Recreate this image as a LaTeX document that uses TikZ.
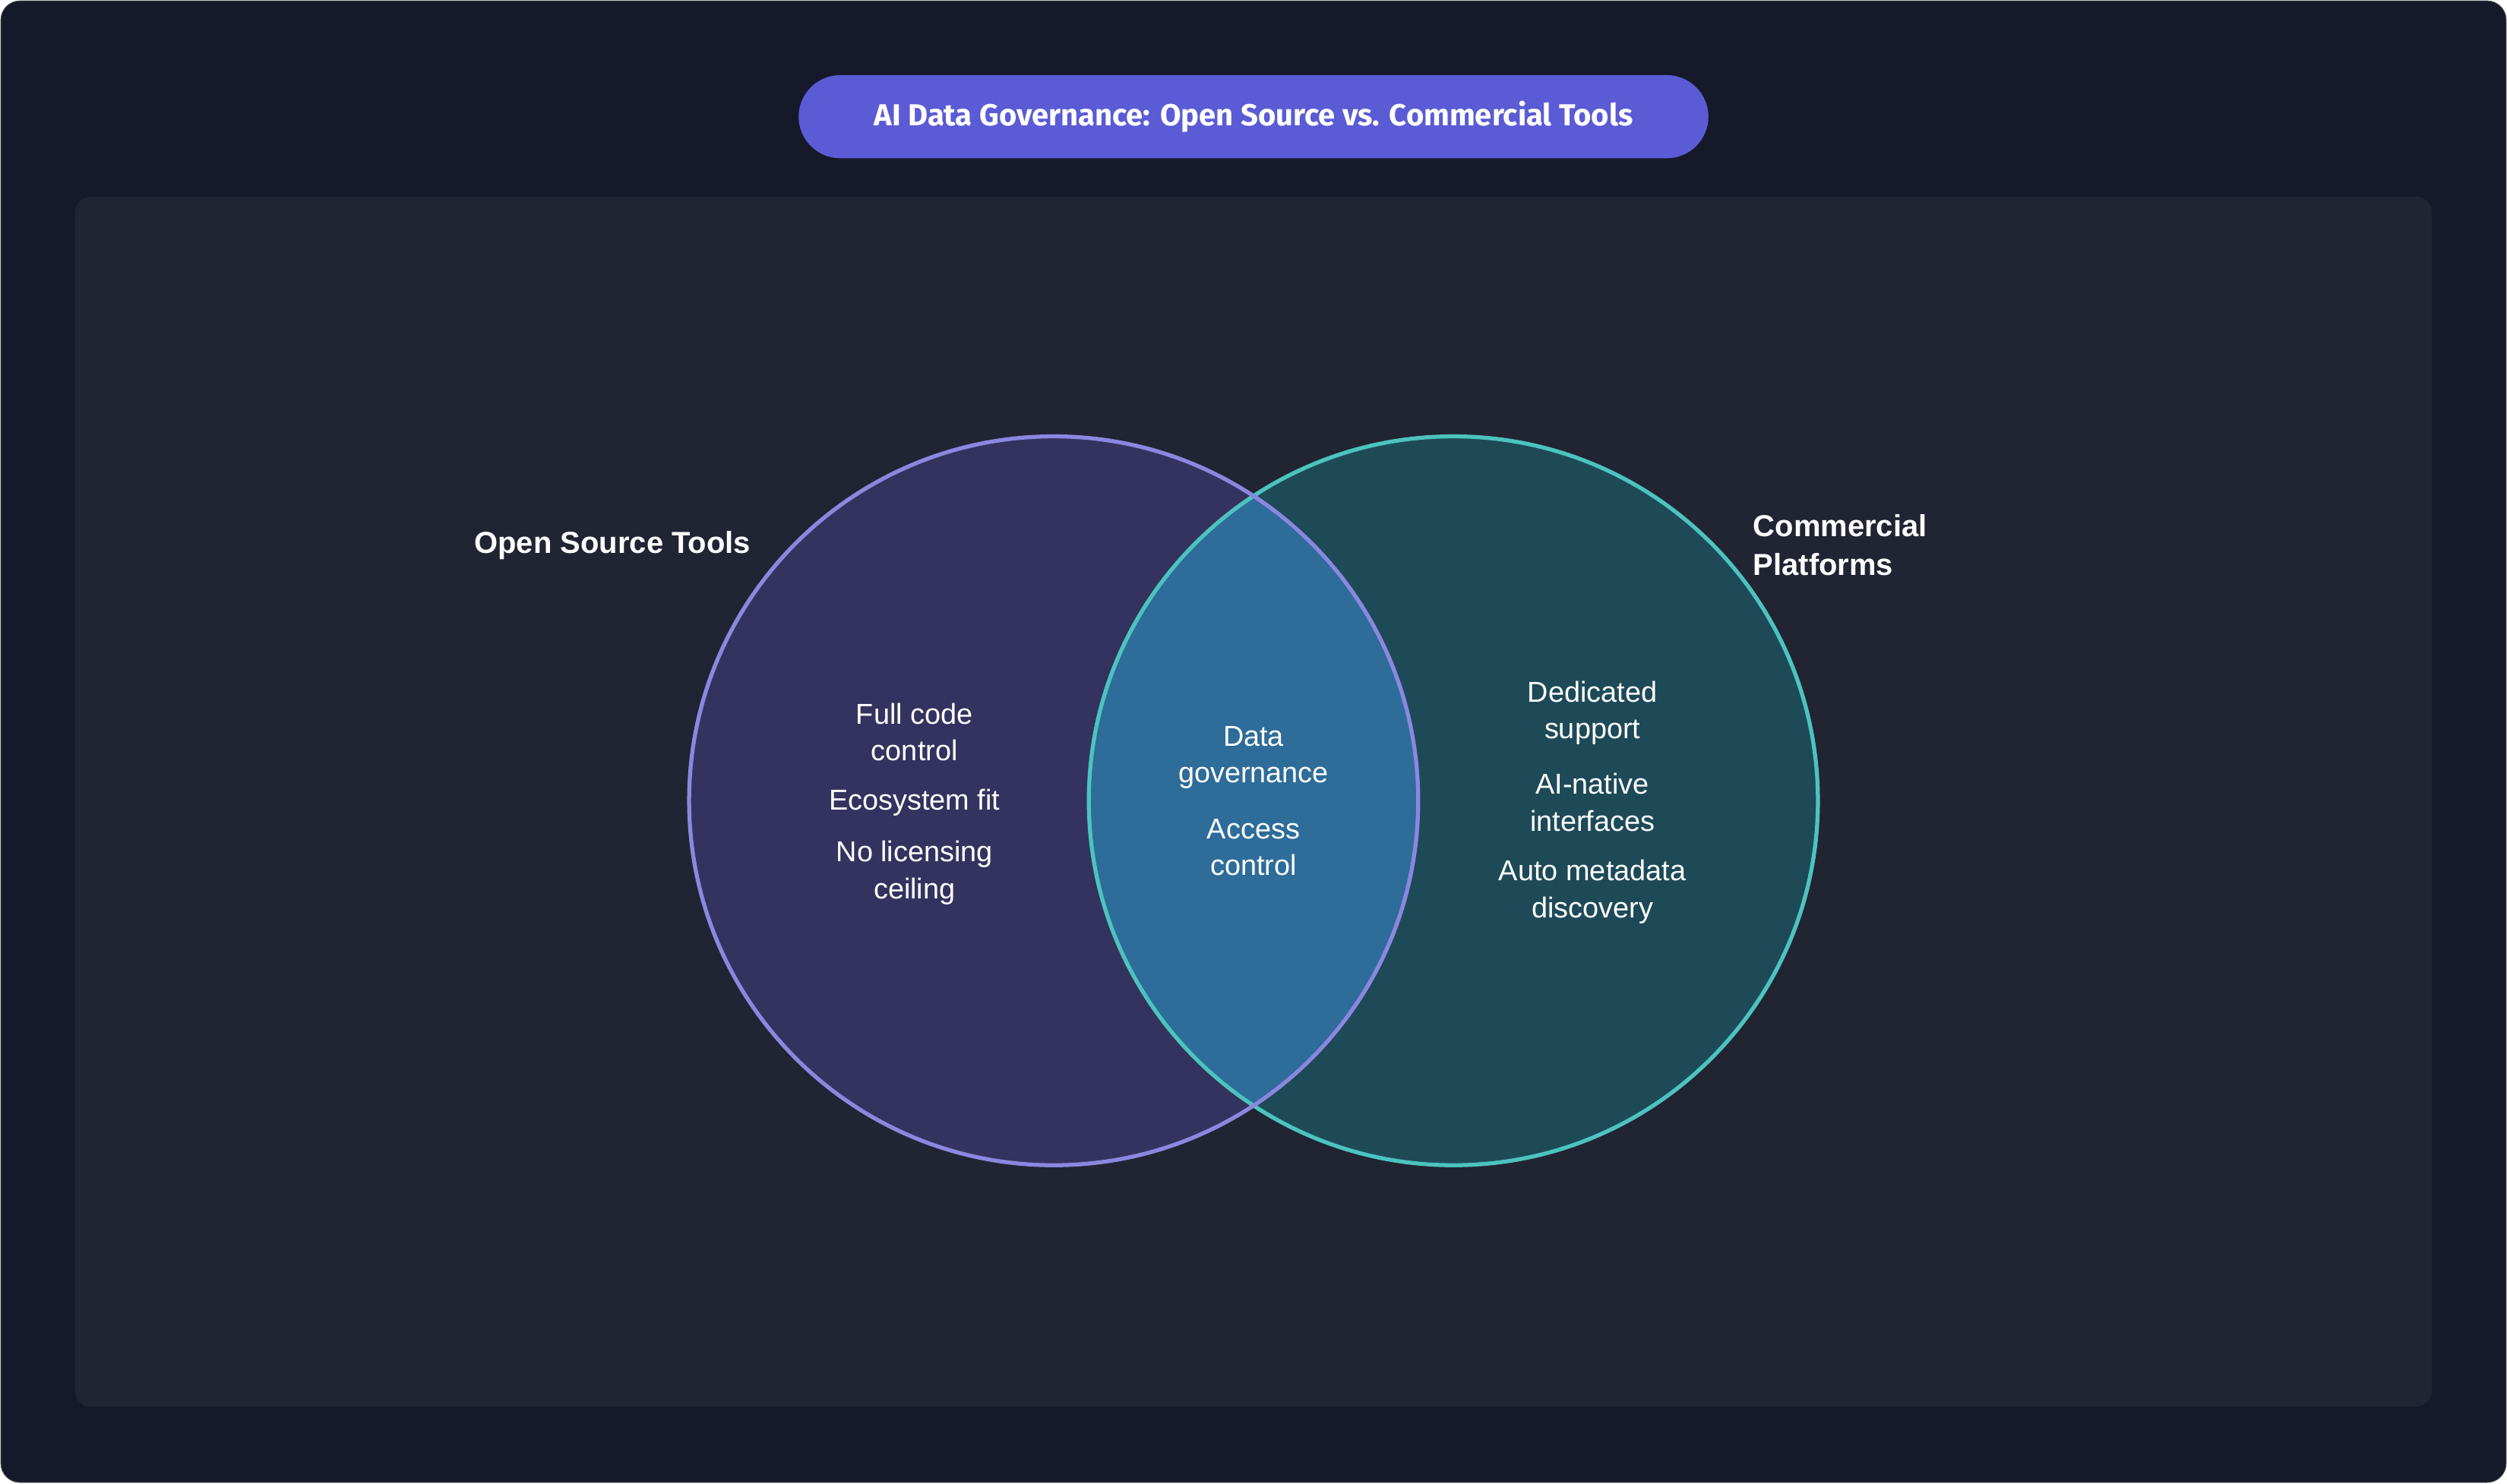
\documentclass[tikz,border=0pt]{standalone}
\usepackage{fontspec}
\setmainfont{Liberation Sans}
\newfontfamily\titlefont{Fira Sans}
\begin{document}
\begin{tikzpicture}[x=1pt,y=-1pt,
  body/.style={text=white,font=\fontsize{18}{23}\selectfont,align=center},
  head/.style={text=white,font=\bfseries\fontsize{19}{24}\selectfont}]
\definecolor{bg}{HTML}{161929}
\definecolor{panel}{HTML}{212433}
\definecolor{lfill}{HTML}{34335F}
\definecolor{lline}{HTML}{8B87E0}
\definecolor{rfill}{HTML}{1E4A58}
\definecolor{rline}{HTML}{4CC3BE}
\definecolor{mid}{HTML}{2E6C99}
\definecolor{pill}{HTML}{5B5BD6}
\useasboundingbox (0,0) rectangle (1568,928);
\draw[fill=bg,draw=gray!60!bg,rounded corners=12] (0.5,0.5) rectangle (1567.5,927.5);
\fill[panel,rounded corners=10] (47,123) rectangle (1521,880);
\node[fill=pill,rounded corners=26,minimum width=569,minimum height=52,text=white,font=\titlefont\bfseries\fontsize{19}{24}\selectfont] (title) at (784,73) {AI Data Governance: Open Source vs. Commercial Tools};
\fill[lfill] (659,501) circle (228);
\fill[rfill] (909,501) circle (228);
\begin{scope}
\clip (659,501) circle (228);
\fill[mid] (909,501) circle (228);
\end{scope}
\draw[rline,line width=2.5] (909,501) circle (228);
\draw[lline,line width=2.5] (659,501) circle (228);
\node[head,anchor=east] (ltitle) at (473,341) {Open Source Tools};
\node[head,anchor=west,align=left] (rtitle) at (1093,341) {Commercial\\Platforms};
\node[body] (l1) at (572,458) {Full code\\control};
\node[body] (l2) at (572,502) {Ecosystem fit};
\node[body] (l3) at (572,546) {No licensing\\ceiling};
\node[body] (m1) at (784,474) {Data\\governance};
\node[body] (m2) at (784,530) {Access\\control};
\node[body] (r1) at (996,446) {Dedicated\\support};
\node[body] (r2) at (996,502) {AI-native\\interfaces};
\node[body] (r3) at (996,558) {Auto metadata\\discovery};
\end{tikzpicture}
\end{document}
